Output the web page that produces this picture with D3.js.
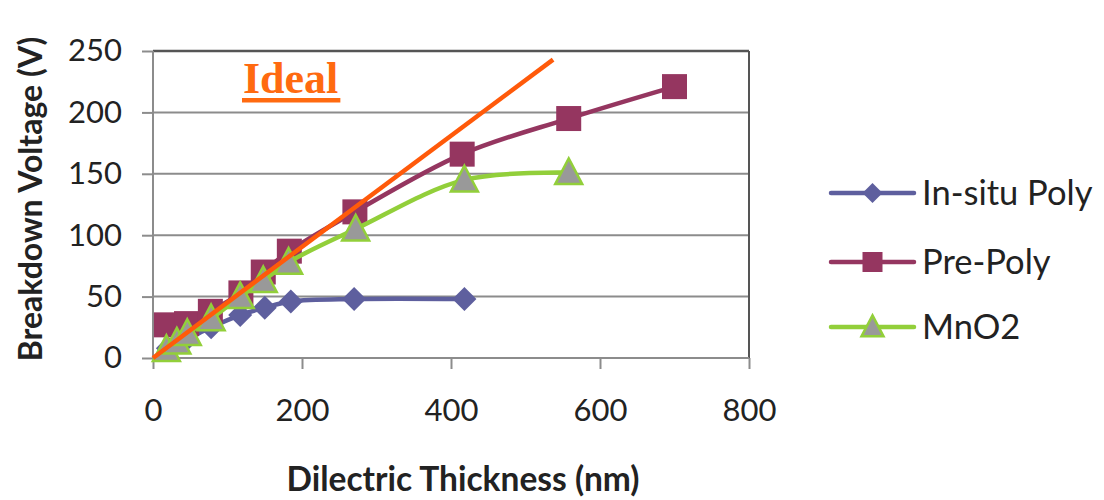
<!DOCTYPE html>
<html><head><meta charset="utf-8">
<script src="https://cdn.jsdelivr.net/npm/d3@7"></script>
<style>html,body{margin:0;padding:0;background:#fff;}svg{display:block;}</style>
</head><body>
<svg id="chart" width="1104" height="500"></svg>
<script>
const xTicks = [0, 200, 400, 600, 800];
const yTicks = [0, 50, 100, 150, 200, 250];
const seriesNames = ["In-situ Poly", "Pre-Poly", "MnO2"];
const inSitu = [[20,8],[45,15],[78,25],[117,35],[150,41],[185,46],[270,48],[418,48]];
const prePoly = [[18,27],[45,28],[77,38],[118,53],[148,70],[183,87],[271,119],[415,166],[558,195],[700,221]];
const mnO2 = [[18,7],[32,13],[46,20],[78,32],[117,50],[148,63],[182,78],[272,105],[418,145],[558,151]];
const ideal = [[0,0],[537,243]];
const xTitle = "Dilectric Thickness (nm)";
const yTitle = "Breakdown Voltage (V)";
const idealLabel = "Ideal";

const svg = d3.select("#chart");
const x = d3.scaleLinear().domain([0, 800]).range([153, 749]);
const y = d3.scaleLinear().domain([0, 250]).range([358, 51]);
const font = "Lato, 'Open Sans', sans-serif";

// gridlines
svg.append("g").selectAll("line").data(yTicks.filter(d => d > 0)).join("line")
  .attr("x1", x(0)).attr("x2", x(800)).attr("y1", d => y(d)).attr("y2", d => y(d))
  .attr("stroke", d => d === 250 ? "#555" : "#8c8c8c").attr("stroke-width", d => d === 250 ? 2.5 : 2);
// right border
svg.append("line").attr("x1", x(800)).attr("x2", x(800)).attr("y1", y(250)).attr("y2", y(0))
  .attr("stroke", "#555").attr("stroke-width", 2);

// axes
const xAxis = svg.append("g").attr("transform", `translate(0,${y(0)})`)
  .call(d3.axisBottom(x).tickValues(xTicks).tickSize(11).tickPadding(30));
const yAxis = svg.append("g").attr("transform", `translate(${x(0)},0)`)
  .call(d3.axisLeft(y).tickValues(yTicks).tickSize(11).tickPadding(20));
[xAxis, yAxis].forEach(a => {
  a.select(".domain").attr("stroke", "#8c8c8c").attr("stroke-width", 2);
  a.selectAll(".tick line").attr("stroke", "#8c8c8c").attr("stroke-width", 2);
  a.selectAll(".tick text").attr("font-family", font).attr("font-size", 31).attr("fill", "#222");
});
xAxis.select(".domain").attr("d", `M${x(0)},0H${x(800)}`);
yAxis.select(".domain").attr("d", `M0,${y(0)}V${y(250)}`);

// axis titles
svg.append("text").attr("x", 463).attr("y", 491).attr("text-anchor", "middle")
  .attr("font-family", font).attr("font-weight", "bold").attr("font-size", 33.5).attr("fill", "#222")
  .text(xTitle);
svg.append("text").attr("transform", "translate(42,199) rotate(-90)").attr("text-anchor", "middle")
  .attr("font-family", font).attr("font-weight", "bold").attr("font-size", 32).attr("fill", "#222")
  .text(yTitle);

const line = d3.line().x(d => x(d[0])).y(d => y(d[1])).curve(d3.curveCatmullRom.alpha(0.5));
const colors = ["#5e5f9e", "#953660", "#92cf3a"];

function marker(g, type, cx, cy, s) {
  if (type === 0) {
    g.append("path").attr("d", `M${cx},${cy - s}L${cx + s},${cy}L${cx},${cy + s}L${cx - s},${cy}Z`)
      .attr("fill", colors[0]);
  } else if (type === 1) {
    g.append("rect").attr("x", cx - s).attr("y", cy - s).attr("width", 2 * s).attr("height", 2 * s)
      .attr("fill", colors[1]);
  } else {
    g.append("path").attr("d", `M${cx},${cy - s * 1.05}L${cx + s},${cy + s * 0.85}L${cx - s},${cy + s * 0.85}Z`)
      .attr("fill", "#999").attr("stroke", colors[2]).attr("stroke-width", 2.5).attr("stroke-linejoin", "miter");
  }
}

const data = [inSitu, prePoly, mnO2];
const sizes = [12, 12.5, 13.5];
data.forEach((ser, i) => {
  const g = svg.append("g");
  g.append("path").datum(ser).attr("d", line).attr("fill", "none")
    .attr("stroke", colors[i]).attr("stroke-width", 4.5);
  ser.forEach(d => marker(g, i, x(d[0]), y(d[1]), sizes[i]));
});

// ideal line
svg.append("path").datum(ideal).attr("d", d3.line().x(d => x(d[0])).y(d => y(d[1])))
  .attr("stroke", "#ff5a0a").attr("stroke-width", 4.5).attr("fill", "none");
const lbl = svg.append("text").attr("x", 243).attr("y", 93)
  .attr("font-family", "'Liberation Serif', 'Times New Roman', serif").attr("font-weight", "bold")
  .attr("font-size", 44).attr("fill", "#ff6a10").text(idealLabel);
const bb = lbl.node().getBBox();
svg.append("rect").attr("x", bb.x - 1).attr("y", 98).attr("width", bb.width + 3).attr("height", 4.5).attr("fill", "#ff6a10");

// legend
const ly = [193, 262, 327];
seriesNames.forEach((n, i) => {
  const g = svg.append("g");
  g.append("line").attr("x1", 831).attr("x2", 914).attr("y1", ly[i]).attr("y2", ly[i])
    .attr("stroke", colors[i]).attr("stroke-width", 4.5).attr("stroke-linecap", "round");
  marker(g, i, 872.5, ly[i], i === 2 ? 11 : 10);
  g.append("text").attr("x", 922).attr("y", ly[i] + 12).attr("font-family", font).attr("font-size", 34.5)
    .attr("fill", "#222").text(n);
});
</script>
</body></html>
